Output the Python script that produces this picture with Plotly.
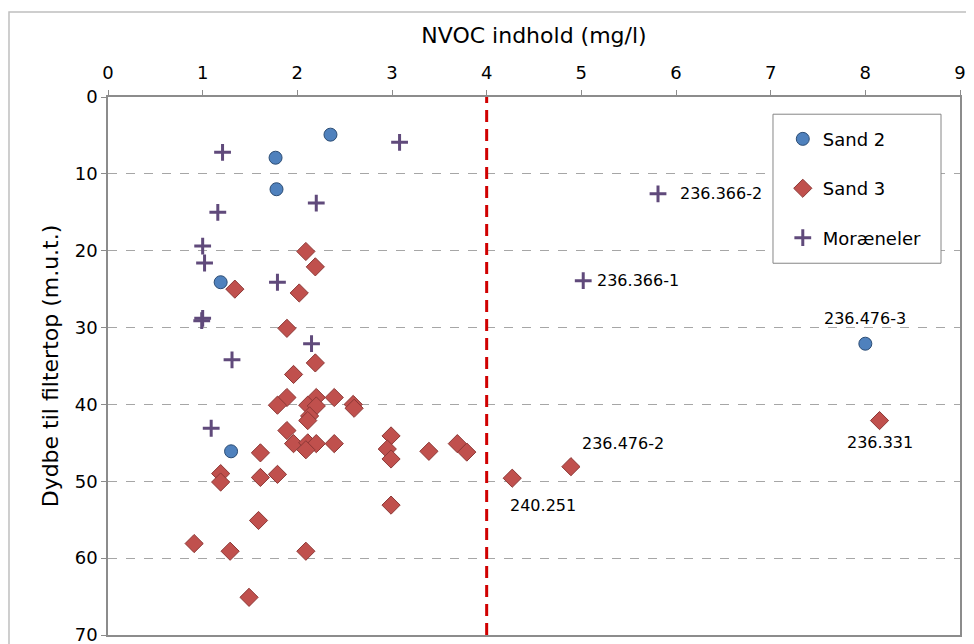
import plotly.graph_objects as go

# Sand 2 (blue circles)
sand2_x = [2.35, 1.77, 1.78, 1.19, 1.30, 8.00]
sand2_y = [4.9, 7.9, 12.0, 24.1, 46.1, 32.1]

# Sand 3 (red diamonds)
sand3_x = [2.09, 2.19, 1.34, 2.02, 1.89, 2.19, 1.96, 1.89, 1.79, 2.20, 2.11, 2.20, 2.39, 2.59, 2.60,
           2.13, 2.11, 1.89, 1.96, 2.11, 2.20, 2.39, 2.09, 1.61, 2.99, 2.95, 2.99, 3.39, 3.69, 3.79,
           1.19, 1.19, 1.61, 1.79, 2.99, 1.59, 0.91, 1.29, 2.09, 1.49, 4.27, 4.89, 8.15]
sand3_y = [20.1, 22.1, 25.0, 25.5, 30.1, 34.6, 36.1, 39.1, 40.1, 39.1, 40.1, 40.2, 39.1, 40.0, 40.5,
           41.5, 42.1, 43.4, 45.1, 45.0, 45.1, 45.1, 45.9, 46.3, 44.1, 45.8, 47.1, 46.1, 45.1, 46.2,
           49.0, 50.1, 49.5, 49.1, 53.1, 55.1, 58.1, 59.1, 59.1, 65.1, 49.6, 48.1, 42.1]

# Moræneler (purple plus)
moraene_x = [3.08, 1.21, 2.20, 5.81, 1.16, 1.00, 1.02, 1.79, 5.02, 1.00, 0.99, 2.15, 1.31, 1.09]
moraene_y = [5.9, 7.2, 13.8, 12.6, 15.0, 19.4, 21.6, 24.1, 23.9, 28.8, 29.1, 32.1, 34.2, 43.1]

# point labels
label_text = ["236.366-2", "236.366-1", "236.476-3", "236.331", "236.476-2", "240.251"]
label_x = [5.81, 5.02, 8.00, 8.15, 4.89, 4.27]
label_y = [12.6, 23.9, 32.1, 42.1, 48.1, 49.6]

limit_x = 4

FONT = "DejaVu Sans, Verdana, sans-serif"
grey = "#8C8C8C"

fig = go.Figure()

fig.add_trace(go.Scatter(x=sand2_x, y=sand2_y, mode="markers", name="Sand 2", legendgroup="a",
                         marker=dict(symbol="circle", size=13, color="#4F81BD",
                                     line=dict(color="#2C4D75", width=1))))
fig.add_trace(go.Scatter(x=sand3_x, y=sand3_y, mode="markers", name="Sand 3", legendgroup="b",
                         marker=dict(symbol="diamond", size=14, color="#C0504D",
                                     line=dict(color="#8C3836", width=1))))
fig.add_trace(go.Scatter(x=moraene_x, y=moraene_y, mode="markers", name="Moræneler", legendgroup="c",
                         marker=dict(symbol="cross-thin", size=12, color="#604A7B",
                                     line=dict(color="#604A7B", width=3))))

# red limit line
fig.add_shape(type="line", xref="x", yref="paper", x0=limit_x, x1=limit_x, y0=0, y1=1,
              line=dict(color="#D00000", width=3, dash="12px,7px"))

# outer chart border
fig.add_shape(type="rect", xref="paper", yref="paper", x0=-0.1162, x1=1.05, y0=-0.1, y1=1.158,
              line=dict(color="#BFBFBF", width=1.5), layer="below")

# legend box
fig.add_shape(type="rect", xref="paper", yref="paper", x0=0.7805, x1=0.9777, y0=0.691, y1=0.968,
              line=dict(color="#868686", width=1), fillcolor="white", layer="above")

offsets = [(20, 0, "left"), (12, 0, "left"), (0, 25, "center"), (0, -22, "center"),
           (9, 23, "left"), (-4, -27, "left")]
for txt, lx, ly, (dx, dy, anc) in zip(label_text, label_x, label_y, offsets):
    fig.add_annotation(x=lx, y=ly, text=txt, showarrow=False, xanchor=anc, yanchor="middle",
                       xshift=dx, yshift=dy, font=dict(size=16, color="black", family=FONT))

fig.update_xaxes(side="top", range=[0, 9], dtick=1, tick0=0, ticks="outside", ticklen=5, tickcolor=grey,
                 showline=True, linecolor=grey, linewidth=1.5, mirror=True, showgrid=False, zeroline=False,
                 automargin=False, tickfont=dict(size=18), ticklabelstandoff=4,
                 title=dict(text="NVOC indhold (mg/l)", font=dict(size=22), standoff=12))
fig.update_yaxes(range=[70, 0], dtick=10, tick0=0, ticks="outside", ticklen=5, tickcolor=grey,
                 showline=True, linecolor=grey, linewidth=1.5, mirror=True, zeroline=False,
                 showgrid=True, gridcolor="#A6A6A6", griddash="dash", gridwidth=1,
                 automargin=False, tickfont=dict(size=18), ticklabeloverflow="allow",
                 title=dict(text="Dydbe til filtertop (m.u.t.)", font=dict(size=22), standoff=10))

# page body adds an 8px margin, so the figure is 8px smaller than the window
fig.update_layout(width=966, height=636, margin=dict(l=100, r=14, t=89, b=9),
                  paper_bgcolor="white", plot_bgcolor="white",
                  font=dict(family=FONT, color="black"),
                  legend=dict(x=0.792, y=0.956, xanchor="left", yanchor="top", bgcolor="rgba(0,0,0,0)",
                              borderwidth=0, tracegroupgap=23, font=dict(size=18)))

fig.write_html("out.html")
